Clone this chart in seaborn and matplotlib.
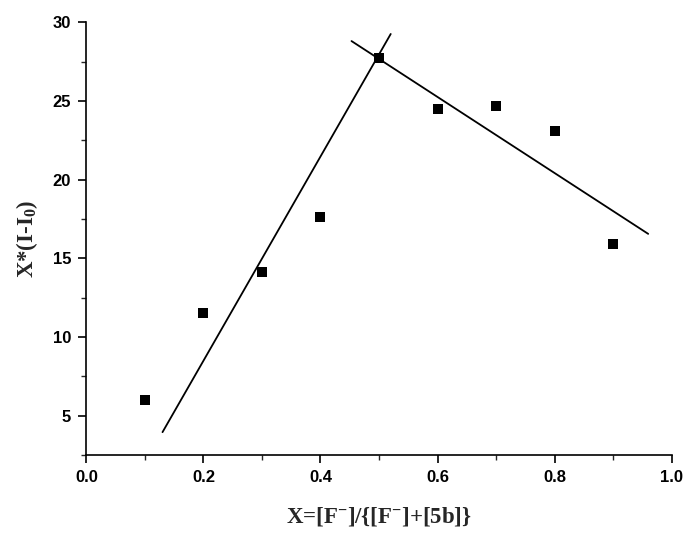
import numpy as np
import pandas as pd
import matplotlib
matplotlib.use("Agg")
import matplotlib.pyplot as plt
import seaborn as sns
from matplotlib.ticker import MultipleLocator

# Job's plot data
mole_frac = [0.1, 0.2, 0.3, 0.4, 0.5, 0.6, 0.7, 0.8, 0.9]
x_dI = [6.0, 11.55, 14.1, 17.6, 27.7, 24.5, 24.7, 23.1, 15.9]

# two straight lines drawn through the data (end points)
rise_x = [0.13, 0.52]
rise_y = [3.95, 29.25]
fall_x = [0.453, 0.96]
fall_y = [28.8, 16.55]

sns.set_style("ticks")
plt.rcParams["font.family"] = ["Liberation Sans", "DejaVu Sans"]
plt.rcParams["mathtext.fontset"] = "custom"
plt.rcParams["mathtext.rm"] = "Liberation Serif:bold"
plt.rcParams["mathtext.it"] = "Liberation Serif:bold"
plt.rcParams["mathtext.bf"] = "Liberation Serif:bold"

df = pd.DataFrame({"x": mole_frac, "y": x_dI})
lines = pd.concat([
    pd.DataFrame({"x": rise_x, "y": rise_y, "seg": "rise"}),
    pd.DataFrame({"x": fall_x, "y": fall_y, "seg": "fall"}),
])

fig = plt.figure(figsize=(6.86, 5.41), dpi=100)
ax = fig.add_axes([0.126, 0.159, 0.853, 0.8])

sns.lineplot(data=lines, x="x", y="y", units="seg", estimator=None,
             color="black", lw=1.3, ax=ax, sort=False)
sns.scatterplot(data=df, x="x", y="y", marker="s", s=45, color="black",
                edgecolor="black", linewidth=0, ax=ax, zorder=3)

ax.set_xlim(0.0, 1.0)
ax.set_ylim(2.5, 30)
ax.xaxis.set_major_locator(MultipleLocator(0.2))
ax.xaxis.set_minor_locator(MultipleLocator(0.1))
ax.yaxis.set_major_locator(MultipleLocator(5))
ax.yaxis.set_minor_locator(MultipleLocator(2.5))
ax.set_yticks([5, 10, 15, 20, 25, 30])
ax.set_xticklabels([f"{v:.1f}" for v in ax.get_xticks()])

ax.tick_params(which="major", direction="out", length=6, width=1.2,
               labelsize=12, colors="black", pad=5)
ax.tick_params(which="minor", direction="out", length=3.5, width=1.0)
for lab in ax.get_xticklabels() + ax.get_yticklabels():
    lab.set_fontweight("bold")

for side in ["top", "right"]:
    ax.spines[side].set_visible(False)
for side in ["left", "bottom"]:
    ax.spines[side].set_linewidth(1.2)
    ax.spines[side].set_color("black")

label_font = dict(family="Liberation Serif", weight="bold", size=16.5)
ax.set_xlabel(r"X=[F$^{-}$]/{[F$^{-}$]+[5b]}", labelpad=14, **label_font)
ax.set_ylabel(r"X*(I-I$_{0}$)", labelpad=9, **label_font)

fig.savefig("out.png", dpi=100)
